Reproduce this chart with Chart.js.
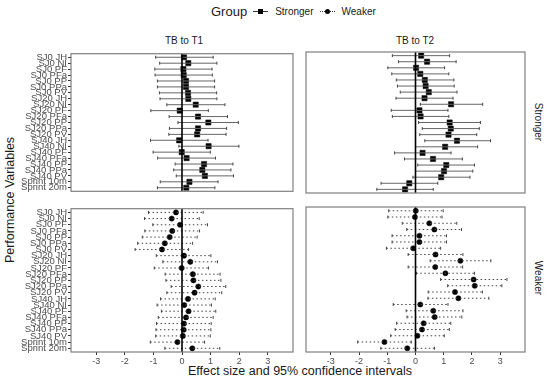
<!DOCTYPE html>
<html>
<head>
<meta charset="utf-8">
<script src="https://cdn.jsdelivr.net/npm/chart.js@4"></script>
<style>
  body { margin: 0; background: #fff; font-family: "Liberation Sans", Arial, sans-serif; }
  #wrap { position: relative; width: 550px; height: 380px; overflow: hidden; }
  canvas { position: absolute; }
  .txt { position: absolute; white-space: nowrap; color: #1a1a1a; transform: translate(-50%, -50%); }
  .leg { position: absolute; left: 211px; top: 2px; display: flex; align-items: center; height: 18px; color: #1a1a1a; }
  .sym { position: relative; width: 15px; height: 10px; margin: 0 7px 0 6px; }
  .sym .ln { position: absolute; left: 0; right: 0; top: 5px; border-top: 1px solid #333; }
  .sym .ln.dot { border-top: 1px dotted #333; }
  .sym .mk { position: absolute; left: 5px; top: 3px; width: 5px; height: 5px; background: #000; }
  .sym .mk.round { border-radius: 50%; }
</style>
</head>
<body>
<div id="wrap">
  <div class="leg">
    <span style="font-size:13px">Group</span>
    <span class="sym"><span class="ln"></span><span class="mk"></span></span>
    <span style="font-size:10px">Stronger</span>
    <span class="sym"><span class="ln dot"></span><span class="mk round"></span></span>
    <span style="font-size:10px">Weaker</span>
  </div>

  <div class="txt" style="left:184px; top:40px; font-size:10px">TB to T1</div>
  <div class="txt" style="left:415px; top:40px; font-size:10px">TB to T2</div>
  <div class="txt" style="left:538px; top:122px; font-size:10px; transform:translate(-50%,-50%) rotate(90deg)">Stronger</div>
  <div class="txt" style="left:538px; top:278px; font-size:10px; transform:translate(-50%,-50%) rotate(90deg)">Weaker</div>
  <div class="txt" style="left:10px; top:200px; font-size:12.5px; transform:translate(-50%,-50%) rotate(-90deg)">Performance Variables</div>
  <div class="txt" style="left:300px; top:371px; font-size:12.5px">Effect size and 95% confidence intervals</div>

  <canvas id="tl" width="298" height="151" style="left:0px; top:47px"></canvas>
  <canvas id="tr" width="229" height="151" style="left:301px; top:47px"></canvas>
  <canvas id="bl" width="298" height="168" style="left:0px; top:202px"></canvas>
  <canvas id="br" width="229" height="168" style="left:301px; top:202px"></canvas>
</div>

<script>
// categories, top to bottom
const categories = ['SJ0 JH','SJ0 NI','SJ0 PF','SJ0 PFa','SJ0 PP','SJ0 PPa','SJ0 PV',
  'SJ20 JH','SJ20 NI','SJ20 PF','SJ20 PFa','SJ20 PP','SJ20 PPa','SJ20 PV',
  'SJ40 JH','SJ40 NI','SJ40 PF','SJ40 PFa','SJ40 PP','SJ40 PPa','SJ40 PV',
  'Sprint 10m','Sprint 20m'];
const xTicks = [-3, -2, -1, 0, 1, 2, 3];

// Stronger group, TB to T1
const strongT1Est = [0.07,0.22,0.05,0.06,0.14,0.14,0.21,0.22,0.48,-0.08,0.56,0.92,0.56,0.53,-0.10,0.93,-0.01,0.16,0.77,0.71,0.80,0.26,0.15];
const strongT1Lo  = [-0.92,-0.78,-0.95,-0.94,-0.86,-0.86,-0.79,-0.77,-0.53,-1.09,-0.45,-0.14,-0.44,-0.46,-1.10,-0.11,-1.01,-0.85,-0.24,-0.29,-0.20,-0.76,-0.86];
const strongT1Hi  = [1.09,1.22,1.05,1.06,1.14,1.14,1.21,1.22,1.50,0.92,1.59,1.97,1.56,1.54,0.91,1.99,0.99,1.17,1.78,1.71,1.80,1.26,1.15];

// Stronger group, TB to T2
const strongT2Est = [0.20,0.41,0.02,0.17,0.33,0.36,0.47,0.32,1.26,0.14,0.18,1.21,1.25,1.17,1.47,1.05,0.25,0.62,1.09,1.01,0.91,-0.22,-0.37];
const strongT2Lo  = [-0.82,-0.60,-0.98,-0.84,-0.68,-0.64,-0.54,-0.69,0.17,-0.86,-0.82,0.11,0.24,0.15,0.33,0.00,-0.74,-0.39,0.08,0.00,-0.09,-1.22,-1.37];
const strongT2Hi  = [1.21,1.44,1.03,1.18,1.36,1.37,1.47,1.33,2.38,1.15,1.18,2.30,2.26,2.17,2.66,2.20,1.26,1.66,2.09,2.03,1.93,0.79,0.63];

// Weaker group, TB to T1
const weakT1Est = [-0.21,-0.36,-0.07,-0.34,-0.43,-0.60,-0.70,0.07,0.29,-0.01,0.38,0.40,0.57,0.44,0.21,0.08,0.23,0.14,0.07,0.06,0.03,-0.16,0.36];
const weakT1Lo  = [-1.17,-1.31,-1.02,-1.30,-1.39,-1.55,-1.64,-0.90,-0.67,-0.97,-0.59,-0.56,-0.38,-0.53,-0.75,-0.87,-0.72,-0.83,-0.89,-0.91,-0.92,-1.11,-0.60];
const weakT1Hi  = [0.74,0.60,0.89,0.61,0.53,0.37,0.23,1.01,1.24,0.93,1.33,1.36,1.53,1.39,1.16,1.03,1.18,1.09,1.02,1.01,0.99,0.79,1.32];

// Weaker group, TB to T2
const weakT2Est = [0.01,-0.02,0.49,0.67,0.14,0.14,-0.08,0.71,1.59,0.70,1.06,2.06,2.10,1.40,1.52,0.17,0.63,0.68,0.29,0.23,0.07,-1.10,-0.29];
const weakT2Lo  = [-0.95,-0.98,-0.47,-0.31,-0.83,-0.83,-1.03,-0.26,0.52,-0.26,0.03,0.89,1.14,0.45,0.44,-0.79,-0.33,-0.30,-0.67,-0.72,-0.88,-2.05,-1.23];
const weakT2Hi  = [0.98,0.94,1.46,1.63,1.10,1.10,0.89,1.68,2.67,1.67,2.09,3.24,3.06,2.37,2.60,1.15,1.68,1.64,1.25,1.20,1.02,-0.15,0.67];

const X_MIN = -3.88, X_MAX = 3.88;
const Y_MIN = -0.6, Y_MAX = categories.length - 0.4;

// grey panel border round the plot area
const borderPlugin = {
  id: 'panelBorder',
  afterDraw(chart) {
    const a = chart.chartArea, ctx = chart.ctx;
    ctx.save();
    ctx.strokeStyle = '#7f7f7f';
    ctx.lineWidth = 1.2;
    ctx.strokeRect(a.left, a.top, a.right - a.left, a.bottom - a.top);
    ctx.restore();
  }
};

function makePanel(id, est, lo, hi, weaker, showY, showX) {
  const datasets = [];
  // reference line at zero
  datasets.push({
    type: 'line', data: [{x: 0, y: Y_MIN}, {x: 0, y: Y_MAX}],
    borderColor: '#000', borderWidth: 1.6, pointRadius: 0
  });
  // confidence intervals
  categories.forEach((c, i) => {
    datasets.push({
      type: 'line', data: [{x: lo[i], y: i}, {x: hi[i], y: i}],
      borderColor: weaker ? '#444' : '#666', borderWidth: 1,
      borderDash: weaker ? [1.5, 2.5] : [],
      pointStyle: 'line', rotation: 90, pointRadius: 1.5,
      pointBorderColor: '#444', pointBorderWidth: 1
    });
  });
  // estimates
  datasets.push({
    type: 'scatter', data: est.map((v, i) => ({x: v, y: i})),
    pointStyle: weaker ? 'circle' : 'rect', pointRadius: weaker ? 2.6 : 3.7,
    backgroundColor: '#000', borderColor: '#000', borderWidth: 0.5
  });

  const xScale = {
    type: 'linear', min: X_MIN, max: X_MAX, display: showX,
    afterBuildTicks: s => { s.ticks = xTicks.map(v => ({value: v})); },
    grid: { drawOnChartArea: false, tickLength: 3, color: '#333' },
    border: { display: false },
    ticks: { color: '#4d4d4d', font: { family: 'Liberation Sans', size: 9 }, padding: 1, maxRotation: 0 }
  };
  if (showX) xScale.afterFit = s => { s.height = 18; };

  const yScale = {
    type: 'linear', reverse: true, min: Y_MIN, max: Y_MAX, display: showY,
    afterBuildTicks: s => { s.ticks = categories.map((c, i) => ({value: i})); },
    grid: { drawOnChartArea: false, tickLength: 3, color: '#333' },
    border: { display: false },
    ticks: {
      autoSkip: false, color: '#4d4d4d', padding: 1,
      font: { family: 'Liberation Sans', size: 9.5 },
      callback: v => categories[v]
    }
  };
  if (showY) yScale.afterFit = s => { s.width = 71; };

  new Chart(document.getElementById(id), {
    type: 'scatter',
    data: { datasets },
    options: {
      responsive: false, animation: false, devicePixelRatio: 1,
      layout: { padding: { top: 1, right: 1, bottom: showX ? 0 : 1, left: showY ? 0 : 1 } },
      plugins: { legend: { display: false }, tooltip: { enabled: false } },
      scales: { x: xScale, y: yScale }
    },
    plugins: [borderPlugin]
  });
}

makePanel('tl', strongT1Est, strongT1Lo, strongT1Hi, false, true, false);
makePanel('tr', strongT2Est, strongT2Lo, strongT2Hi, false, false, false);
makePanel('bl', weakT1Est, weakT1Lo, weakT1Hi, true, true, true);
makePanel('br', weakT2Est, weakT2Lo, weakT2Hi, true, false, true);
</script>
</body>
</html>
